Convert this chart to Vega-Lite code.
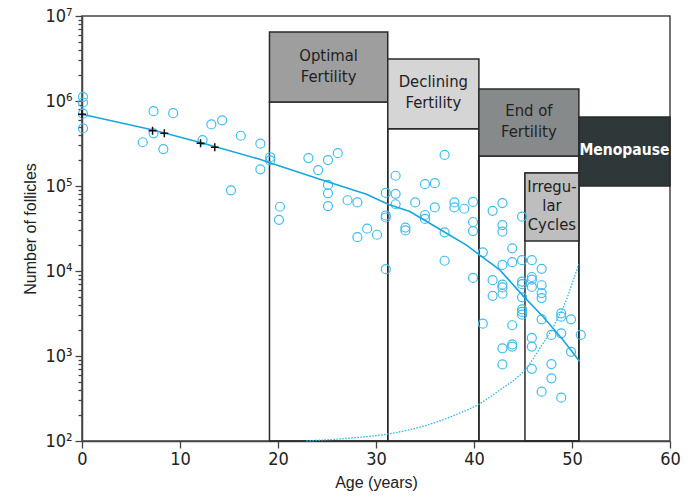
{
  "$schema": "https://vega.github.io/schema/vega-lite/v6.json",
  "width": 588,
  "height": 425,
  "autosize": {"type": "none"},
  "padding": {"left": 82, "top": 16, "right": 27, "bottom": 60},
  "background": "white",
  "config": {
    "view": {"stroke": "#444", "strokeWidth": 1.5},
    "font": "DejaVu Sans Condensed, Liberation Sans, sans-serif",
    "axis": {
      "grid": false,
      "domainColor": "#444",
      "domainWidth": 1.5,
      "tickColor": "#444",
      "tickWidth": 1.3,
      "labelColor": "#222",
      "titleColor": "#222",
      "labelFont": "DejaVu Sans Condensed, Liberation Sans, sans-serif",
      "titleFont": "Liberation Sans, sans-serif",
      "titleFontWeight": "normal",
      "labelFontSize": 18,
      "titleFontSize": 16
    },
    "axisX": {"tickSize": 7, "labelPadding": 2, "titlePadding": 6, "labelFlush": false},
    "axisY": {"labelPadding": 3, "titlePadding": 6}
  },
  "datasets": {
    "stages": [
      {"stage": "Optimal\nFertility", "from": 19.13, "to": 31.2, "low": 970000, "high": 6500000},
      {"stage": "Declining\nFertility", "from": 31.2, "to": 40.5, "low": 470000, "high": 3120000},
      {"stage": "End of\nFertility", "from": 40.5, "to": 50.7, "low": 225000, "high": 1380000},
      {"stage": "Menopause", "from": 50.7, "to": 60, "low": 100000, "high": 650000},
      {"stage": "Irregu-\nlar\nCycles", "from": 45.2, "to": 50.7, "low": 22500, "high": 142000}
    ],
    "columns": [
      {"from": 19.13, "to": 31.2, "low": 100, "high": 970000},
      {"from": 31.2, "to": 40.5, "low": 100, "high": 470000},
      {"from": 40.5, "to": 50.7, "low": 100, "high": 225000},
      {"from": 45.2, "to": 50.7, "low": 100, "high": 142000}
    ],
    "follicles": [
      {"age": 0.1, "n": 1120000}, {"age": 0.1, "n": 960000}, {"age": 0.1, "n": 710000}, {"age": 0.1, "n": 475000},
      {"age": 7.3, "n": 760000}, {"age": 9.3, "n": 720000}, {"age": 6.2, "n": 327000}, {"age": 7.3, "n": 417000},
      {"age": 8.3, "n": 272000}, {"age": 13.2, "n": 530000}, {"age": 14.3, "n": 593000}, {"age": 12.3, "n": 347000},
      {"age": 16.2, "n": 390000}, {"age": 18.2, "n": 315000}, {"age": 18.2, "n": 157000}, {"age": 15.2, "n": 89000},
      {"age": 19.2, "n": 218000}, {"age": 19.2, "n": 200000}, {"age": 23.1, "n": 213000}, {"age": 20.2, "n": 57000},
      {"age": 20.1, "n": 40000}, {"age": 25.1, "n": 202000}, {"age": 26.1, "n": 243000}, {"age": 24.1, "n": 154000},
      {"age": 25.1, "n": 103000}, {"age": 25.1, "n": 82000}, {"age": 25.1, "n": 58000}, {"age": 27.1, "n": 68000},
      {"age": 28.1, "n": 64000}, {"age": 29.1, "n": 31500}, {"age": 28.1, "n": 25000}, {"age": 30.1, "n": 26700},
      {"age": 31.0, "n": 83000}, {"age": 31.0, "n": 45000}, {"age": 31.0, "n": 42600}, {"age": 31.0, "n": 10500},
      {"age": 32.0, "n": 132000}, {"age": 32.0, "n": 81000}, {"age": 32.0, "n": 61000}, {"age": 33.0, "n": 32400},
      {"age": 33.0, "n": 30000}, {"age": 34.0, "n": 64000}, {"age": 35.0, "n": 105000}, {"age": 36.0, "n": 108000},
      {"age": 36.0, "n": 56000}, {"age": 35.0, "n": 45600}, {"age": 35.0, "n": 41000}, {"age": 37.0, "n": 232000},
      {"age": 37.0, "n": 28500}, {"age": 37.0, "n": 13200}, {"age": 38.0, "n": 64000}, {"age": 38.0, "n": 56000},
      {"age": 39.0, "n": 54000}, {"age": 39.9, "n": 65000}, {"age": 39.9, "n": 37700}, {"age": 39.9, "n": 29500},
      {"age": 39.9, "n": 8300}, {"age": 41.9, "n": 51000}, {"age": 42.9, "n": 63000}, {"age": 44.9, "n": 43600},
      {"age": 42.9, "n": 34700}, {"age": 42.9, "n": 29000}, {"age": 40.9, "n": 16600}, {"age": 43.9, "n": 18500},
      {"age": 42.9, "n": 11800}, {"age": 43.9, "n": 12700}, {"age": 44.9, "n": 13400}, {"age": 45.9, "n": 13400},
      {"age": 46.9, "n": 10600}, {"age": 41.9, "n": 7800}, {"age": 42.9, "n": 6900}, {"age": 42.9, "n": 6400},
      {"age": 41.9, "n": 5100}, {"age": 42.9, "n": 5400}, {"age": 44.9, "n": 7500}, {"age": 44.9, "n": 7000},
      {"age": 45.9, "n": 8500}, {"age": 45.9, "n": 7900}, {"age": 45.9, "n": 6500}, {"age": 46.9, "n": 6800},
      {"age": 46.9, "n": 5500}, {"age": 46.9, "n": 4800}, {"age": 44.9, "n": 4900}, {"age": 44.9, "n": 3540},
      {"age": 44.9, "n": 3300}, {"age": 44.9, "n": 3060}, {"age": 43.9, "n": 2300}, {"age": 40.9, "n": 2400},
      {"age": 46.9, "n": 2700}, {"age": 48.9, "n": 3180}, {"age": 48.9, "n": 2900}, {"age": 49.9, "n": 2700},
      {"age": 47.9, "n": 1770}, {"age": 48.9, "n": 1850}, {"age": 50.9, "n": 1770}, {"age": 49.9, "n": 1120},
      {"age": 45.9, "n": 1630}, {"age": 45.9, "n": 1290}, {"age": 43.9, "n": 1370}, {"age": 43.9, "n": 1290},
      {"age": 42.9, "n": 1230}, {"age": 42.9, "n": 795}, {"age": 45.9, "n": 706}, {"age": 47.9, "n": 803},
      {"age": 47.9, "n": 546}, {"age": 46.9, "n": 380}, {"age": 48.9, "n": 323}
    ],
    "crosses": [
      {"age": 0, "n": 700000}, {"age": 7.2, "n": 447000}, {"age": 8.4, "n": 417000}, {"age": 12.1, "n": 318000}, {"age": 13.55, "n": 285000}
    ],
    "fit": [
      {"age": 0, "n": 700000}, {"age": 7.26, "n": 456000}, {"age": 12.36, "n": 318000}, {"age": 18.14, "n": 206000},
      {"age": 19.16, "n": 188000}, {"age": 24.27, "n": 120000}, {"age": 29.03, "n": 80000}, {"age": 31.23, "n": 61000},
      {"age": 33.45, "n": 50000}, {"age": 36.51, "n": 31000}, {"age": 39.23, "n": 20200}, {"age": 40.59, "n": 15400},
      {"age": 42.63, "n": 10300}, {"age": 45.01, "n": 5100}, {"age": 47.05, "n": 2900}, {"age": 49.09, "n": 1540},
      {"age": 50.8, "n": 857}
    ],
    "curve": [
      {"age": 22.9, "n": 100}, {"age": 27.3, "n": 108}, {"age": 31.23, "n": 121}, {"age": 35.83, "n": 162},
      {"age": 38.2, "n": 205}, {"age": 40.52, "n": 272}, {"age": 42.63, "n": 398}, {"age": 45.18, "n": 684},
      {"age": 47.05, "n": 1409}, {"age": 47.73, "n": 1860}, {"age": 48.42, "n": 2600}, {"age": 49.44, "n": 4600},
      {"age": 49.78, "n": 5970}, {"age": 50.69, "n": 12000}
    ]
  },
  "layer": [
    {
      "data": {"name": "columns"},
      "mark": {"type": "rect", "fill": null, "stroke": "#2a2a2a", "strokeWidth": 1.5},
      "encoding": {
        "x": {"field": "from", "type": "quantitative", "title": "Age (years)",
              "scale": {"domain": [0, 60], "nice": false, "zero": false},
              "axis": {"values": [0, 10, 20, 30, 40, 50, 60]}},
        "x2": {"field": "to"},
        "y": {"field": "low", "type": "quantitative", "title": "Number of follicles",
              "scale": {"type": "log", "domain": [100, 10000000], "nice": false},
              "axis": {
                "values": [100, 200, 300, 400, 500, 600, 700, 800, 900,
                           1000, 2000, 3000, 4000, 5000, 6000, 7000, 8000, 9000,
                           10000, 20000, 30000, 40000, 50000, 60000, 70000, 80000, 90000,
                           100000, 200000, 300000, 400000, 500000, 600000, 700000, 800000, 900000,
                           1000000, 2000000, 3000000, 4000000, 5000000, 6000000, 7000000, 8000000, 9000000, 10000000],
                "labelExpr": "datum.value == 100 ? '10²' : datum.value == 1000 ? '10³' : datum.value == 10000 ? '10⁴' : datum.value == 100000 ? '10⁵' : datum.value == 1000000 ? '10⁶' : datum.value == 10000000 ? '10⁷' : ''",
                "tickSize": {"condition": {"test": "abs(log(datum.value)/LN10 - round(log(datum.value)/LN10)) < 0.000001", "value": 7}, "value": 4}
              }},
        "y2": {"field": "high"}
      }
    },
    {
      "data": {"name": "stages"},
      "mark": {"type": "rect", "stroke": "#2a2a2a", "strokeWidth": 1.5},
      "encoding": {
        "x": {"field": "from", "type": "quantitative", "title": "Age (years)"},
        "x2": {"field": "to"},
        "y": {"field": "low", "type": "quantitative", "title": "Number of follicles", "scale": {"type": "log"}},
        "y2": {"field": "high"},
        "fill": {"field": "stage", "type": "nominal", "legend": null,
                 "scale": {"domain": ["Optimal\nFertility", "Declining\nFertility", "End of\nFertility", "Menopause", "Irregu-\nlar\nCycles"],
                           "range": ["#9e9e9e", "#d6d5d6", "#878a8b", "#2f3839", "#bebebe"]}}
      }
    },
    {
      "data": {"name": "stages"},
      "transform": [
        {"filter": "datum.stage != 'Menopause' && indexof(datum.stage, 'Irregu') < 0"},
        {"calculate": "(datum.from + datum.to) / 2", "as": "cx"},
        {"calculate": "sqrt(datum.low * datum.high)", "as": "cy"}
      ],
      "mark": {"type": "text", "lineBreak": "\n", "fontSize": 16.5, "lineHeight": 21, "dy": -11.5, "baseline": "middle", "align": "center", "color": "#222"},
      "encoding": {
        "x": {"field": "cx", "type": "quantitative", "title": "Age (years)"},
        "y": {"field": "cy", "type": "quantitative", "title": "Number of follicles", "scale": {"type": "log"}},
        "text": {"field": "stage"}
      }
    },
    {
      "data": {"name": "stages"},
      "transform": [
        {"filter": "indexof(datum.stage, 'Irregu') >= 0"},
        {"calculate": "(datum.from + datum.to) / 2", "as": "cx"},
        {"calculate": "sqrt(datum.low * datum.high)", "as": "cy"}
      ],
      "mark": {"type": "text", "lineBreak": "\n", "fontSize": 16.5, "lineHeight": 19, "dy": -20, "baseline": "middle", "align": "center", "color": "#222"},
      "encoding": {
        "x": {"field": "cx", "type": "quantitative", "title": "Age (years)"},
        "y": {"field": "cy", "type": "quantitative", "title": "Number of follicles", "scale": {"type": "log"}},
        "text": {"field": "stage"}
      }
    },
    {
      "data": {"name": "stages"},
      "transform": [
        {"filter": "datum.stage == 'Menopause'"},
        {"calculate": "(datum.from + datum.to) / 2", "as": "cx"},
        {"calculate": "sqrt(datum.low * datum.high)", "as": "cy"}
      ],
      "mark": {"type": "text", "fontSize": 15.5, "fontWeight": "bold", "dy": -1, "baseline": "middle", "align": "center", "color": "white"},
      "encoding": {
        "x": {"field": "cx", "type": "quantitative", "title": "Age (years)"},
        "y": {"field": "cy", "type": "quantitative", "title": "Number of follicles", "scale": {"type": "log"}},
        "text": {"field": "stage"}
      }
    },
    {
      "data": {"name": "follicles"},
      "mark": {"type": "point", "shape": "circle", "filled": false, "size": 81, "stroke": "#3fbef0", "strokeWidth": 1.2, "opacity": 1},
      "encoding": {
        "x": {"field": "age", "type": "quantitative", "title": "Age (years)"},
        "y": {"field": "n", "type": "quantitative", "title": "Number of follicles", "scale": {"type": "log"}}
      }
    },
    {
      "data": {"name": "fit"},
      "mark": {"type": "line", "color": "#17a6e0", "strokeWidth": 1.6},
      "encoding": {
        "x": {"field": "age", "type": "quantitative", "title": "Age (years)"},
        "y": {"field": "n", "type": "quantitative", "title": "Number of follicles", "scale": {"type": "log"}}
      }
    },
    {
      "data": {"name": "curve"},
      "mark": {"type": "line", "color": "#29b4e8", "strokeWidth": 1.3, "strokeDash": [1.5, 1.5], "interpolate": "monotone"},
      "encoding": {
        "x": {"field": "age", "type": "quantitative", "title": "Age (years)"},
        "y": {"field": "n", "type": "quantitative", "title": "Number of follicles", "scale": {"type": "log"}}
      }
    },
    {
      "data": {"name": "crosses"},
      "mark": {"type": "point", "shape": "M-1,0L1,0M0,-1L0,1", "filled": false, "size": 64, "stroke": "#111", "strokeWidth": 1.5, "opacity": 1},
      "encoding": {
        "x": {"field": "age", "type": "quantitative", "title": "Age (years)"},
        "y": {"field": "n", "type": "quantitative", "title": "Number of follicles", "scale": {"type": "log"}}
      }
    }
  ]
}
